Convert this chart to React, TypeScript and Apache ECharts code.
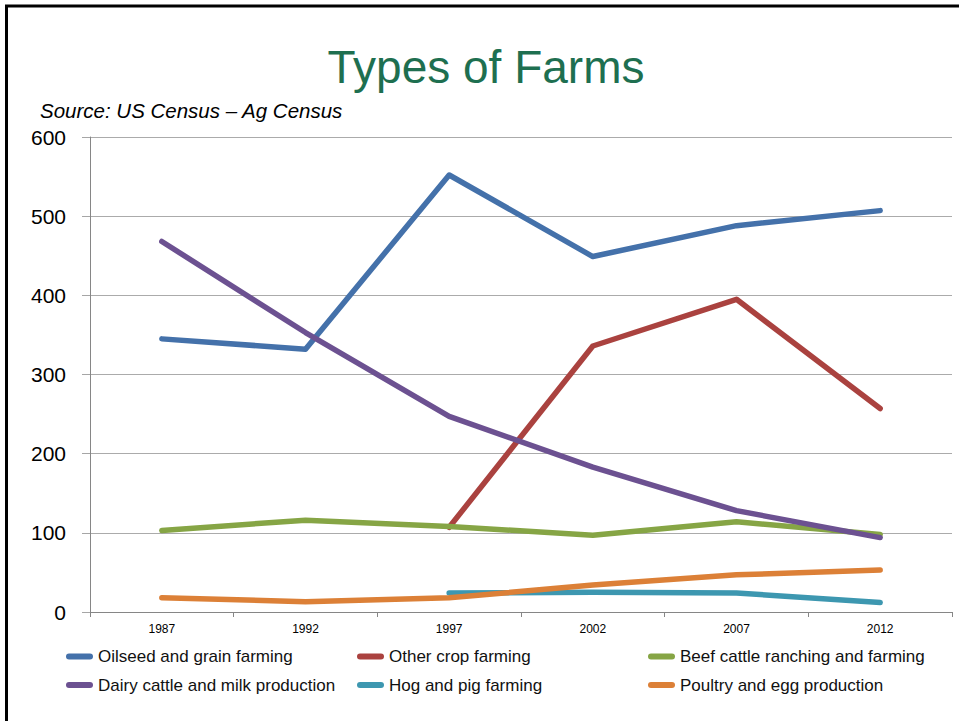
import React, { useEffect, useRef } from "react";
import * as echarts from "echarts";

const years = ["1987", "1992", "1997", "2002", "2007", "2012"];
const oilseed = [345, 332, 552, 449, 488, 507];
const otherCrop = [null, null, 107, 336, 395, 257];
const beef = [103, 116, 108, 97, 114, 98];
const dairy = [468, 353, 247, 183, 128, 94];
const hog = [null, null, 24, 25, 24, 12];
const poultry = [18, 13, 18, 34, 47, 53];
const yTicks = { min: 0, max: 600, interval: 100 };

const seriesNames = [
  "Oilseed and grain farming",
  "Other crop farming",
  "Beef cattle ranching and farming",
  "Dairy cattle and milk production",
  "Hog and pig farming",
  "Poultry and egg production",
];
const seriesData = [oilseed, otherCrop, beef, dairy, hog, poultry];
const colors = ["#4471AA", "#AA423F", "#86A545", "#6C5191", "#3D97B0", "#DC8037"];

const FONT = "'Liberation Sans', Arial, sans-serif";
const legendIcon = "path://M3,0 L24,0 A3,3 0 0 1 24,6 L3,6 A3,3 0 0 1 3,0 Z";

export default function App() {
  const ref = useRef<HTMLDivElement>(null);
  useEffect(() => {
    document.body.style.margin = "0";
    const chart = echarts.init(ref.current!, null, { renderer: "svg" });
    const legendBase = {
      orient: "vertical" as const,
      top: 643,
      padding: 5,
      itemWidth: 27,
      itemHeight: 6,
      itemGap: 11.5,
      icon: legendIcon,
      textStyle: { fontFamily: FONT, fontSize: 17, color: "#111" },
    };
    chart.setOption({
      animation: false,
      backgroundColor: "#fff",
      color: colors,
      textStyle: { fontFamily: FONT },
      graphic: [
        {
          type: "rect",
          shape: { x: 6.5, y: 6, width: 1000, height: 1000 },
          style: { fill: "none", stroke: "#000", lineWidth: 3 },
          silent: true,
        },
        {
          type: "text",
          x: 486,
          y: 67,
          style: {
            text: "Types of Farms",
            fontFamily: FONT,
            fontSize: 46,
            fill: "#1E6F50",
            align: "center",
            verticalAlign: "middle",
          },
        },
        {
          type: "text",
          x: 40,
          y: 110,
          style: {
            text: "Source: US Census \u2013 Ag Census",
            fontFamily: FONT,
            fontSize: 20.5,
            fontStyle: "italic",
            fill: "#000",
            align: "left",
            verticalAlign: "middle",
          },
        },
      ],
      grid: { left: 90, right: 7, top: 137, bottom: 109 },
      xAxis: {
        type: "category",
        data: years,
        boundaryGap: true,
        axisLine: { show: true, lineStyle: { color: "#868686", width: 1 } },
        axisTick: { show: true, length: 5, inside: false, lineStyle: { color: "#868686" } },
        axisLabel: { fontFamily: FONT, fontSize: 12, color: "#000", margin: 11 },
        splitLine: { show: false },
      },
      yAxis: {
        type: "value",
        min: yTicks.min,
        max: yTicks.max,
        interval: yTicks.interval,
        axisLine: { show: true, lineStyle: { color: "#868686", width: 1 } },
        axisTick: { show: true, length: 8, lineStyle: { color: "#A6A6A6" } },
        axisLabel: { fontFamily: FONT, fontSize: 21, color: "#000", margin: 24 },
        splitLine: { show: true, lineStyle: { color: "#ABABAB", width: 1 } },
      },
      legend: [
        { ...legendBase, left: 61, data: [seriesNames[0], seriesNames[3]] },
        { ...legendBase, left: 352, data: [seriesNames[1], seriesNames[4]] },
        { ...legendBase, left: 643, data: [seriesNames[2], seriesNames[5]] },
      ],
      series: seriesNames.map((name, i) => ({
        name,
        type: "line",
        data: seriesData[i],
        symbol: "none",
        connectNulls: false,
        lineStyle: { width: 5.5, cap: "round", join: "round", color: colors[i] },
        itemStyle: { color: colors[i] },
      })),
    });
    return () => chart.dispose();
  }, []);
  return (
    <div
      ref={ref}
      style={{ position: "absolute", left: 0, top: 0, width: 959, height: 721 }}
    />
  );
}
